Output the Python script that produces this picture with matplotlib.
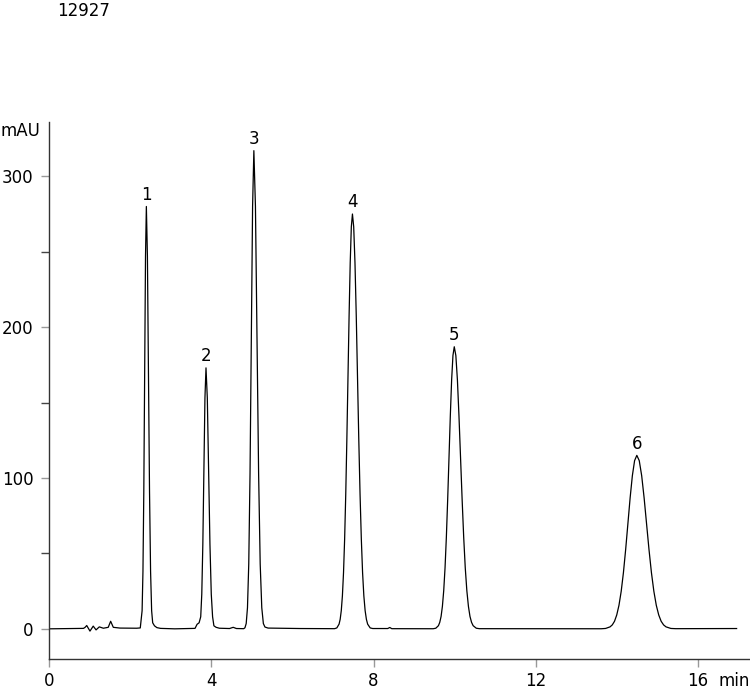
import matplotlib
matplotlib.use("Agg")
import matplotlib.pyplot as plt

# chromatogramme 12927
plt.rcParams['font.family'] = ['DejaVu Sans']
plt.rcParams['font.size'] = 12

# ligne de base avant le pic 1
t_base = [0.0, 0.5, 0.85, 0.89, 0.93, 1.01, 1.09, 1.16, 1.24, 1.34, 1.46, 1.52, 1.585, 1.75, 2.16]
v_base = [0.0, 0.2, 0.3, 1.0, 2.2, -1.5, 1.8, -0.7, 1.3, 0.4, 1.0, 5.0, 1.0, 0.5, 0.4]

t_p1 = [2.25, 2.295, 2.316, 2.337, 2.358, 2.379, 2.40, 2.426, 2.452, 2.478, 2.504, 2.53, 2.556, 2.60, 2.66, 2.75]
v_p1 = [0.6, 12, 38, 91, 170, 247, 280, 247, 170, 91, 38, 12, 4, 2, 0.8, 0.3]

t_p2 = [3.10, 3.60, 3.65, 3.70, 3.74, 3.766, 3.792, 3.818, 3.844, 3.87, 3.9025, 3.935, 3.9675,
        4.00, 4.0325, 4.065, 4.12, 4.20, 4.45, 4.54, 4.62]
v_p2 = [0.0, 0.3, 3, 4, 8, 23, 56, 105, 153, 173, 153, 105, 56, 23, 8, 2, 1.0, 0.4, 0.2, 1.0, 0.2]

t_p3 = [4.80, 4.83, 4.861, 4.8925, 4.924, 4.9555, 4.987, 5.0185, 5.05, 5.089, 5.128, 5.167, 5.206,
        5.245, 5.284, 5.323, 5.40, 6.2]
v_p3 = [0.1, 0.7, 3.5, 14, 43, 103, 192, 280, 317, 280, 192, 103, 43, 14, 3.5, 1.2, 0.5, 0.2]

t_p4 = [7.04, 7.095, 7.15, 7.1775, 7.205, 7.2325, 7.26, 7.2875, 7.315, 7.3425, 7.37, 7.3975,
        7.425, 7.4525, 7.48, 7.511, 7.5425, 7.574, 7.605, 7.636, 7.6675, 7.699, 7.73, 7.761,
        7.7925, 7.824, 7.855, 7.9175, 7.98, 8.35, 8.4, 8.45]
v_p4 = [0.1, 0.6, 3.1, 6.3, 12.1, 21.9, 37.2, 59.5, 89.3, 125.9, 166.8, 207.6,
        242.7, 266.5, 275, 266.5, 242.7, 207.6, 166.8, 125.9, 89.3, 59.5, 37.2, 21.9,
        12.1, 6.3, 3.1, 0.6, 0.2, 0.2, 0.9, 0.1]

t_p5 = [9.47, 9.535, 9.60, 9.6325, 9.665, 9.6975, 9.73, 9.7625, 9.795, 9.8275, 9.86, 9.8925,
        9.925, 9.9575, 9.99, 10.029, 10.0675, 10.106, 10.145, 10.184, 10.2225, 10.261, 10.30,
        10.339, 10.3775, 10.416, 10.455, 10.5325, 10.61]
v_p5 = [0.06, 0.4, 2.1, 4.3, 8.2, 14.9, 25.3, 40.4, 60.7, 85.6, 113.4, 141.1,
        165.0, 181.2, 187, 181.2, 165.0, 141.1, 113.4, 85.6, 60.7, 40.4, 25.3,
        14.9, 8.2, 4.3, 2.1, 0.4, 0.1]

t_p6 = [13.61, 13.72, 13.83, 13.885, 13.94, 13.995, 14.05, 14.105, 14.16, 14.215, 14.27, 14.325,
        14.38, 14.435, 14.49, 14.55, 14.61, 14.67, 14.73, 14.79, 14.85, 14.91, 14.97, 15.03,
        15.09, 15.15, 15.21, 15.33, 15.45, 16.95]
v_p6 = [0.05, 0.25, 1.3, 2.6, 5.0, 9.2, 15.6, 24.9, 37.3, 52.6, 69.7, 86.8,
        101.5, 111.5, 115, 111.5, 101.5, 86.8, 69.7, 52.6, 37.3, 24.9, 15.6, 9.2,
        5.0, 2.6, 1.3, 0.25, 0.1, 0.2]

# étiquettes des pics
pic_num = ['1', '2', '3', '4', '5', '6']
pic_t = [2.40, 3.87, 5.05, 7.48, 9.99, 14.49]
pic_h = [280, 173, 317, 275, 187, 115]

t = t_base + t_p1 + t_p2 + t_p3 + t_p4 + t_p5 + t_p6
v = v_base + v_p1 + v_p2 + v_p3 + v_p4 + v_p5 + v_p6

fig = plt.figure(figsize=(7.5, 6.89), dpi=100)
ax = fig.add_axes([49 / 750, 30 / 689, 701 / 750, 537 / 689])
ax.plot(t, v, color='black', lw=0.9)

for num, tp, hp in zip(pic_num, pic_t, pic_h):
    ax.annotate(num, (tp, hp), xytext=(0, 2), textcoords='offset points',
                ha='center', va='bottom')

ax.set_xlim(0, 17.28)
ax.set_ylim(-20, 336)
ax.set_xticks([0, 4, 8, 12, 16])
ax.set_yticks([0, 100, 200, 300])
ax.set_yticks([50, 150, 250], minor=True)
for s in ['top', 'right']:
    ax.spines[s].set_visible(False)
for s in ['left', 'bottom']:
    ax.spines[s].set_color('#333333')
    ax.spines[s].set_linewidth(1)
ax.tick_params(axis='both', which='major', length=6, color='#999999', width=1, labelcolor='black')
ax.tick_params(axis='x', pad=3)
ax.tick_params(axis='y', pad=5)
ax.tick_params(axis='y', which='minor', length=6, color='#444444', width=1)

fig.text(0.0, 1 - 131 / 689, 'mAU', ha='left', va='center')
fig.text(719 / 750, 1 - 681 / 689, 'min', ha='left', va='center')
fig.text(57 / 750, 1 - 11 / 689, '12927', ha='left', va='center')

fig.savefig('out.png', dpi=100)
